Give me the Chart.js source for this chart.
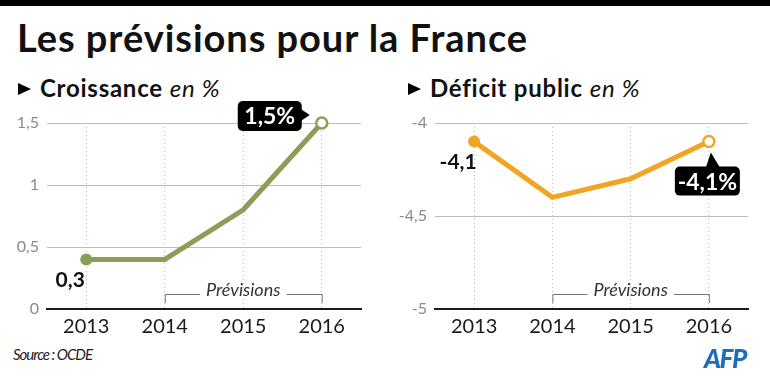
<!DOCTYPE html>
<html>
<head>
<meta charset="utf-8">
<script src="https://cdn.jsdelivr.net/npm/chart.js@4"></script>
<style>
  body { margin: 0; width: 770px; height: 383px; background: #fff; position: relative; overflow: hidden; font-family: Lato, sans-serif; color: #111; }
  #bande { position: absolute; left: 0; top: 0; width: 770px; height: 6px; background: #000; }
  #titre { position: absolute; left: 17px; top: 14px; font-size: 38px; font-weight: 700; letter-spacing: 0.95px; white-space: nowrap; }
  .sous { position: absolute; top: 73px; font-size: 24px; letter-spacing: 0.75px; white-space: nowrap; }
  .sous b { font-weight: 700; }
  .sous i { font-weight: 400; }
  .tri { display: inline-block; width: 0; height: 0; border-left: 13px solid #000; border-top: 6.5px solid transparent; border-bottom: 6.5px solid transparent; margin-right: 9px; vertical-align: 2px; }
  canvas { position: absolute; top: 100px; }
  #source { position: absolute; left: 13px; top: 345px; font-size: 15px; font-style: italic; color: #222; letter-spacing: -1px; }
  #afp { position: absolute; left: 704px; top: 342px; font-size: 26px; font-weight: 900; font-style: italic; color: #1e6fb9; letter-spacing: -1.5px; }
</style>
</head>
<body>
<div id="bande"></div>
<div id="titre">Les prévisions pour la France</div>
<div class="sous" style="left:18px"><span class="tri"></span><b>Croissance</b> <i>en %</i></div>
<div class="sous" style="left:408px"><span class="tri"></span><b>Déficit public</b> <i>en %</i></div>
<canvas id="croissance" width="385" height="245" style="left:0"></canvas>
<canvas id="deficit" width="385" height="245" style="left:385px"></canvas>
<div id="source">Source : OCDE</div>
<div id="afp">AFP</div>

<script>
var annees = ['2013', '2014', '2015', '2016'];
var croissance = [0.4, 0.4, 0.8, 1.5];
var deficit = [-4.1, -4.4, -4.3, -4.1];
var ticksCroissance = [0, 0.5, 1, 1.5];
var ticksDeficit = [-5, -4.5, -4];
var etiquettesCroissance = ['0,3', null, null, '1,5%'];
var etiquettesDeficit = ['-4,1', null, null, '-4,1%'];
var debutPrevisions = '2014';
var finPrevisions = '2016';

Chart.defaults.font.family = 'Lato, sans-serif';

function virgule(v) {
    return String(v).replace('.', ',');
}

// bulle noire avec une pointe vers le point
function bulle(ctx, texte, x, y, w, h, pointe) {
    ctx.fillStyle = '#000';
    ctx.beginPath();
    ctx.roundRect(x, y, w, h, 5);
    ctx.fill();
    ctx.beginPath();
    if (pointe.sens === 'droite') {
        ctx.moveTo(x + w - 1, y + h / 2 - 7);
        ctx.lineTo(pointe.x, pointe.y);
        ctx.lineTo(x + w - 1, y + h / 2 + 5);
    } else {
        ctx.moveTo(pointe.x - 5, y + 1);
        ctx.lineTo(pointe.x, pointe.y);
        ctx.lineTo(pointe.x + 9, y + 1);
    }
    ctx.fill();
    ctx.fillStyle = '#fff';
    ctx.font = 'bold 23px Lato, sans-serif';
    ctx.textAlign = 'center';
    ctx.textBaseline = 'middle';
    ctx.fillText(texte, x + w / 2, y + h / 2 + 1);
}

function pluginEtiquettes(etiquettes, sensBulle) {
    return {
        id: 'etiquettes',
        afterDatasetsDraw: function(chart) {
            var ctx = chart.ctx;
            var xs = chart.scales.x, ys = chart.scales.y;
            var valeurs = chart.data.datasets[0].data;
            ctx.save();

            // crochet "Prévisions"
            var x1 = xs.getPixelForValue(annees.indexOf(debutPrevisions));
            var x2 = xs.getPixelForValue(annees.indexOf(finPrevisions));
            var yb = chart.chartArea.bottom - 15;
            var xm = (x1 + x2) / 2;
            ctx.font = 'italic 18px Lato, sans-serif';
            var lt = ctx.measureText('Prévisions').width;
            ctx.strokeStyle = '#777';
            ctx.lineWidth = 1;
            ctx.beginPath();
            ctx.moveTo(x1 + 0.5, yb + 9);
            ctx.lineTo(x1 + 0.5, yb + 0.5);
            ctx.lineTo(xm - lt / 2 - 6, yb + 0.5);
            ctx.moveTo(xm + lt / 2 + 6, yb + 0.5);
            ctx.lineTo(x2 + 0.5, yb + 0.5);
            ctx.lineTo(x2 + 0.5, yb + 9);
            ctx.stroke();
            ctx.fillStyle = '#333';
            ctx.textAlign = 'center';
            ctx.textBaseline = 'middle';
            ctx.fillText('Prévisions', xm, yb - 4);

            etiquettes.forEach(function(t, i) {
                if (!t) return;
                var px = xs.getPixelForValue(i);
                var py = ys.getPixelForValue(valeurs[i]);
                if (i === 0) {
                    ctx.fillStyle = '#111';
                    ctx.font = 'bold 21px Lato, sans-serif';
                    ctx.textAlign = 'center';
                    ctx.textBaseline = 'middle';
                    ctx.fillText(t, px - 16, py + 21);
                } else if (sensBulle === 'droite') {
                    bulle(ctx, t, px - 84, py - 22, 64, 30, { sens: 'droite', x: px - 12, y: py - 8 });
                } else {
                    bulle(ctx, t, px - 34, py + 25, 65, 29, { sens: 'haut', x: px + 2, y: py + 11 });
                }
            });
            ctx.restore();
        }
    };
}

function creerGraphique(id, valeurs, ticks, couleur, largeurAxe, padDroite, etiquettes, sensBulle) {
    return new Chart(document.getElementById(id), {
        type: 'line',
        data: {
            labels: annees,
            datasets: [{
                data: valeurs,
                borderColor: couleur,
                borderWidth: 5,
                pointRadius: [6, 0, 0, 5.5],
                pointBackgroundColor: [couleur, couleur, couleur, '#fff'],
                pointBorderColor: couleur,
                pointBorderWidth: [0, 0, 0, 2.5],
                tension: 0,
                clip: false
            }]
        },
        options: {
            responsive: false,
            animation: false,
            layout: { padding: { left: 0, right: padDroite, top: 23, bottom: 6 } },
            plugins: { legend: { display: false }, tooltip: { enabled: false } },
            scales: {
                x: {
                    offset: true,
                    grid: { offset: false, color: '#bdbdbd', lineWidth: 1, drawTicks: false },
                    border: { display: true, color: '#1a1a1a', width: 2, dash: [1, 3] },
                    ticks: { color: '#1a1a1a', font: { size: 20 }, padding: 6 },
                    afterFit: function(s) { s.height = 30; }
                },
                y: {
                    min: ticks[0],
                    max: ticks[ticks.length - 1],
                    afterBuildTicks: function(s) { s.ticks = ticks.map(function(v) { return { value: v }; }); },
                    grid: {
                        drawTicks: false,
                        lineWidth: 1,
                        color: function(c) { return c.tick && c.tick.value === ticks[0] ? 'rgba(0,0,0,0)' : '#bcbcbc'; }
                    },
                    border: { display: false },
                    ticks: { color: '#8a8a8a', font: { size: 16 }, padding: 8, callback: function(v) { return virgule(v); } },
                    afterFit: function(s) { s.width = largeurAxe; }
                }
            }
        },
        plugins: [pluginEtiquettes(etiquettes, sensBulle)]
    });
}

creerGraphique('croissance', croissance, ticksCroissance, '#8a9e57', 47, 24, etiquettesCroissance, 'droite');
creerGraphique('deficit', deficit, ticksDeficit, '#f0a623', 50, 22, etiquettesDeficit, 'haut');
</script>
</body>
</html>
